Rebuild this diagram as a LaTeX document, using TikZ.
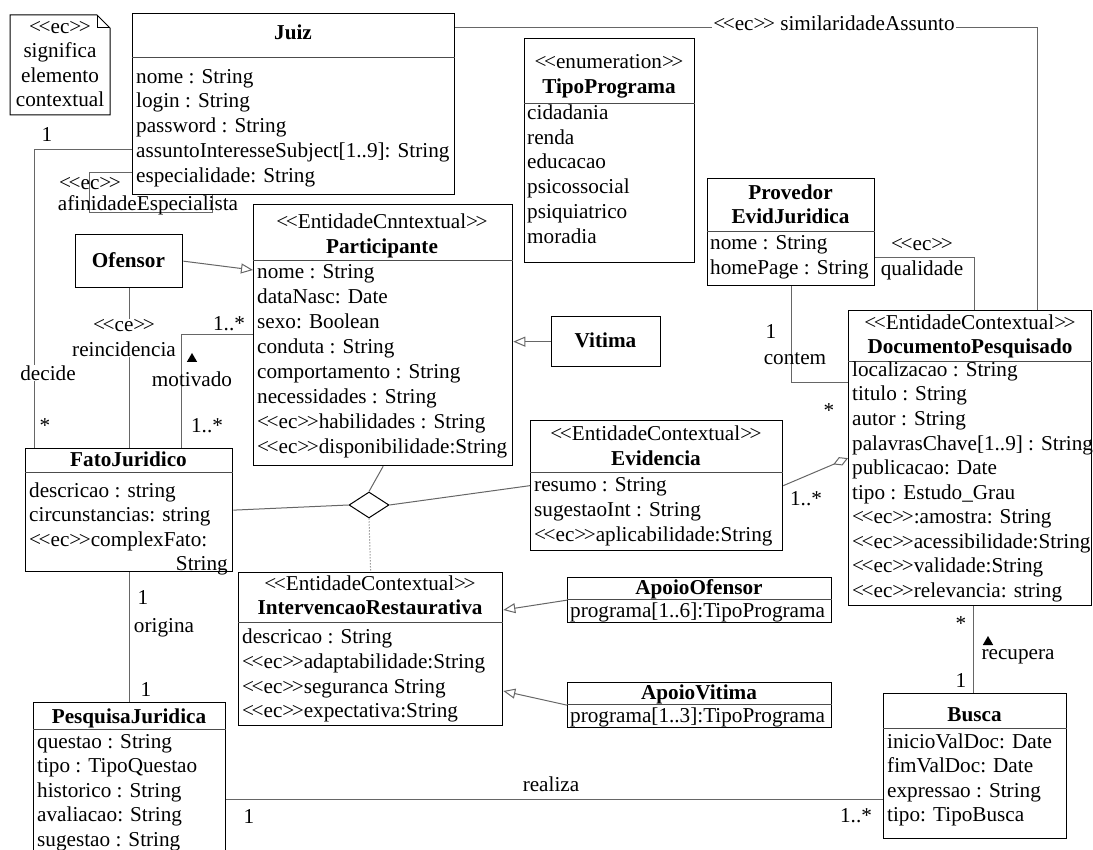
\documentclass[tikz,border=0pt]{standalone}
\usepackage{fontspec}
\setmainfont{Liberation Serif}
\usetikzlibrary{arrows.meta,shapes.geometric}

\newcommand{\ester}[1]{<\kern-0.12em<#1>\kern-0.12em>}

\begin{document}
\begin{tikzpicture}[
    x=1pt, y=-1pt,
    font=\fontsize{21.2}{24.6}\selectfont,
    classe/.style={draw, line width=1.3pt, anchor=north west, inner sep=0pt},
    divisao/.style={line width=1pt, black!70},
    estereo/.style={inner sep=0pt, text height=16pt, text depth=3pt},
    titulo/.style={estereo, font=\fontsize{21.2}{24.6}\selectfont\bfseries},
    atrib/.style={estereo, anchor=west},
    linha/.style={line width=1pt, black!60},
    heranca/.style={linha, -{Triangle[open, length=12pt, width=10pt]}},
    agrega/.style={linha, -{Diamond[open, length=16pt, width=9pt]}},
    rotulo/.style={inner sep=1pt},
    seta/.style={regular polygon, regular polygon sides=3, fill=black, inner sep=0pt, minimum size=12pt},
]

\useasboundingbox (0,0) rectangle (1093,850);

% Nota

\draw[line width=1pt] (10,15) -- (97,15) -- (110,28) -- (110,115) -- (10,115) -- cycle;
\draw[line width=1pt] (97,15) -- (97,28) -- (110,28);
\node[align=center, inner sep=0pt] (nota) at (60,64) {\ester{ec}\\significa\\elemento\\contextual};


% Juiz

\node[classe, minimum width=322pt, minimum height=181pt] (juiz) at (132,13) {};
\draw[divisao] ([yshift=-45pt]juiz.north west) -- ([yshift=-45pt]juiz.north east);
\node[titulo] (juizT) at (293,33) {Juiz};
\node[atrib] (juiz1) at (136,77) {nome : String};
\node[atrib] (juiz2) at (136,101) {login : String};
\node[atrib] (juiz3) at (136,126) {password : String};
\node[atrib] (juiz4) at (136,151) {assuntoInteresseSubject[1..9]: String};
\node[atrib] (juiz5) at (136,176) {especialidade: String};


% TipoPrograma

\node[classe, minimum width=170pt, minimum height=224pt] (tipo) at (524,38) {};
\draw[divisao] ([yshift=-66pt]tipo.north west) -- ([yshift=-66pt]tipo.north east);
\node[estereo] (tipoE) at (609,62) {\ester{enumeration}};
\node[titulo] (tipoT) at (609,87) {TipoPrograma};
\node[atrib] (tipo1) at (527,113) {cidadania};
\node[atrib] (tipo2) at (527,138) {renda};
\node[atrib] (tipo3) at (527,162) {educacao};
\node[atrib] (tipo4) at (527,187) {psicossocial};
\node[atrib] (tipo5) at (527,212) {psiquiatrico};
\node[atrib] (tipo6) at (527,237) {moradia};


% ProvedorEvidJuridica

\node[classe, minimum width=167pt, minimum height=107pt] (provedor) at (707,178) {};
\draw[divisao] ([yshift=-54pt]provedor.north west) -- ([yshift=-54pt]provedor.north east);
\node[titulo] (provedorT1) at (790.5,193) {Provedor};
\node[titulo] (provedorT2) at (790.5,217) {EvidJuridica};
\node[atrib] (provedor1) at (710,243) {nome : String};
\node[atrib] (provedor2) at (710,268) {homePage : String};


% Participante

\node[classe, minimum width=259pt, minimum height=261pt] (participante) at (253,204) {};
\draw[divisao] ([yshift=-57pt]participante.north west) -- ([yshift=-57pt]participante.north east);
\node[estereo] (participanteE) at (382,222) {\ester{EntidadeCnntextual}};
\node[titulo] (participanteT) at (382,247) {Participante};
\node[atrib] (part1) at (257,272) {nome : String};
\node[atrib] (part2) at (257,297) {dataNasc: Date};
\node[atrib] (part3) at (257,322) {sexo: Boolean};
\node[atrib] (part4) at (257,347) {conduta : String};
\node[atrib] (part5) at (257,372) {comportamento : String};
\node[atrib] (part6) at (257,397) {necessidades : String};
\node[atrib] (part7) at (257,422) {\ester{ec}habilidades : String};
\node[atrib] (part8) at (257,447) {\ester{ec}disponibilidade:String};


% Ofensor e Vitima

\node[classe, minimum width=107pt, minimum height=53pt] (ofensor) at (75,234) {};
\node[titulo] (ofensorT) at (128.5,261) {Ofensor};

\node[classe, minimum width=109pt, minimum height=50pt] (vitima) at (551,316) {};
\node[titulo] (vitimaT) at (605.5,341) {Vitima};


% FatoJuridico

\node[classe, minimum width=207pt, minimum height=123pt] (fato) at (25,448) {};
\draw[divisao] ([yshift=-24pt]fato.north west) -- ([yshift=-24pt]fato.north east);
\node[titulo] (fatoT) at (128.5,460) {FatoJuridico};
\node[atrib] (fato1) at (29,491) {descricao : string};
\node[atrib] (fato2) at (29,515) {circunstancias: string};
\node[atrib] (fato3) at (29,540) {\ester{ec}complexFato:};
\node[atrib, anchor=east] (fato4) at (228,564) {String};


% Evidencia

\node[classe, minimum width=252pt, minimum height=130pt] (evidencia) at (530,420) {};
\draw[divisao] ([yshift=-52pt]evidencia.north west) -- ([yshift=-52pt]evidencia.north east);
\node[estereo] (evidenciaE) at (656,434) {\ester{EntidadeContextual}};
\node[titulo] (evidenciaT) at (656,459) {Evidencia};
\node[atrib] (evid1) at (534,485) {resumo : String};
\node[atrib] (evid2) at (534,510) {sugestaoInt : String};
\node[atrib] (evid3) at (534,535) {\ester{ec}aplicabilidade:String};


% DocumentoPesquisado

\node[classe, minimum width=243pt, minimum height=295pt] (documento) at (848,310) {};
\draw[divisao] ([yshift=-52pt]documento.north west) -- ([yshift=-52pt]documento.north east);
\node[estereo] (documentoE) at (970,323) {\ester{EntidadeContextual}};
\node[titulo] (documentoT) at (970,347) {DocumentoPesquisado};
\node[atrib] (doc1) at (852,370) {localizacao : String};
\node[atrib] (doc2) at (852,394.5) {titulo : String};
\node[atrib] (doc3) at (852,419) {autor : String};
\node[atrib] (doc4) at (852,443.5) {palavrasChave[1..9] : String};
\node[atrib] (doc5) at (852,468) {publicacao: Date};
\node[atrib] (doc6) at (852,492.5) {tipo : Estudo\_Grau};
\node[atrib] (doc7) at (852,517) {\ester{ec}:amostra: String};
\node[atrib] (doc8) at (852,541.5) {\ester{ec}acessibilidade:String};
\node[atrib] (doc9) at (852,566) {\ester{ec}validade:String};
\node[atrib] (doc10) at (852,590.5) {\ester{ec}relevancia: string};


% IntervencaoRestaurativa

\node[classe, minimum width=264pt, minimum height=153pt] (intervencao) at (238,572) {};
\draw[divisao] ([yshift=-50pt]intervencao.north west) -- ([yshift=-50pt]intervencao.north east);
\node[estereo] (intervencaoE) at (370,584) {\ester{EntidadeContextual}};
\node[titulo] (intervencaoT) at (370,608) {IntervencaoRestaurativa};
\node[atrib] (interv1) at (242,637) {descricao : String};
\node[atrib] (interv2) at (242,662) {\ester{ec}adaptabilidade:String};
\node[atrib] (interv3) at (242,687) {\ester{ec}seguranca String};
\node[atrib] (interv4) at (242,711) {\ester{ec}expectativa:String};


% ApoioOfensor e ApoioVitima

\node[classe, minimum width=264pt, minimum height=45pt] (apoioOfensor) at (567,577) {};
\draw[divisao] ([yshift=-22pt]apoioOfensor.north west) -- ([yshift=-22pt]apoioOfensor.north east);
\node[titulo] (apoioOfensorT) at (699,588) {ApoioOfensor};
\node[atrib] (apoioOfensor1) at (570,611) {programa[1..6]:TipoPrograma};

\node[classe, minimum width=264pt, minimum height=45pt] (apoioVitima) at (567,682) {};
\draw[divisao] ([yshift=-22pt]apoioVitima.north west) -- ([yshift=-22pt]apoioVitima.north east);
\node[titulo] (apoioVitimaT) at (699,693) {ApoioVitima};
\node[atrib] (apoioVitima1) at (570,716) {programa[1..3]:TipoPrograma};


% Busca

\node[classe, minimum width=183pt, minimum height=145pt] (busca) at (883,693) {};
\draw[divisao] ([yshift=-35pt]busca.north west) -- ([yshift=-35pt]busca.north east);
\node[titulo] (buscaT) at (974.5,715) {Busca};
\node[atrib] (busca1) at (887,742) {inicioValDoc: Date};
\node[atrib] (busca2) at (887,766) {fimValDoc: Date};
\node[atrib] (busca3) at (887,791) {expressao : String};
\node[atrib] (busca4) at (887,815) {tipo: TipoBusca};


% PesquisaJuridica

\node[classe, minimum width=192pt, minimum height=170pt] (pesquisa) at (33,702) {};
\draw[divisao] ([yshift=-27pt]pesquisa.north west) -- ([yshift=-27pt]pesquisa.north east);
\node[titulo] (pesquisaT) at (129,717) {PesquisaJuridica};
\node[atrib] (pesq1) at (37,742) {questao : String};
\node[atrib] (pesq2) at (37,766) {tipo : TipoQuestao};
\node[atrib] (pesq3) at (37,791) {historico : String};
\node[atrib] (pesq4) at (37,815) {avaliacao: String};
\node[atrib] (pesq5) at (37,840) {sugestao : String};


% Associacao n-aria

\node[draw, diamond, line width=1pt, aspect=1.54, minimum width=40pt, minimum height=26pt, inner sep=0pt] (losango) at (369,505) {};

\draw[linha] (participante.south) -- (losango.north);
\draw[linha] (fato.east) -- (losango.west);
\draw[linha] (losango.east) -- (evidencia.west);
\draw[linha, dotted] (losango.south) -- (intervencao.north);


% Pontos de dobra

\coordinate (cSim) at (1037,28);
\coordinate (cQual) at (974,258);
\coordinate (cCont) at (791,383);
\coordinate (cDec) at (34,150);
\coordinate (cMot) at (181,335);
\coordinate (cAf1) at (89,173);
\coordinate (cAf2) at (212,213);
\coordinate (cRea) at (0,799);
\coordinate (cRec) at (973,0);


% Associacoes

\draw[linha] (juiz.east |- cSim) -| (documento.north -| cSim);
\node[rotulo, fill=white] (similaridade) at (834,23) {\ester{ec} similaridadeAssunto};

\draw[linha] (provedor.east |- cQual) -| (documento.north -| cQual);
\node[rotulo] (qualidade1) at (922,245) {\ester{ec}};
\node[rotulo] (qualidade2) at (922,270) {qualidade};

\draw[linha] (provedor.south -| cCont) |- (documento.west |- cCont);
\node[rotulo] (contem1) at (771,332) {1};
\node[rotulo] (contem) at (795,359) {contem};
\node[rotulo] (contem2) at (829,411) {*};

\draw[agrega] (evidencia.east) -- (documento.west);
\node[rotulo] (agrega1) at (806,499) {1..*};

\draw[linha] (juiz.west |- cDec) -| (fato.north -| cDec);
\node[rotulo] (decide1) at (47,135) {1};
\node[rotulo, fill=white] (decide) at (48,373) {decide};
\node[rotulo] (decide2) at (45,426) {*};

\draw[linha] (juiz.west |- cAf1) -- (cAf1) |- (cAf2) -- (juiz.south -| cAf2);
\node[rotulo] (afinidade1) at (90,184) {\ester{ec}};
\node[rotulo] (afinidade) at (148,205) {afinidadeEspecialista};

\draw[linha] (ofensor.south) -- (fato.north -| ofensor.south);
\node[rotulo, fill=white, align=center] (reincidencia) at (124,338) {\ester{ce}\\reincidencia};

\draw[linha] (fato.north -| cMot) |- (participante.west |- cMot);
\node[rotulo] (motivado1) at (229,324) {1..*};
\node[seta] (setaMot) at (192,359) {};
\node[rotulo] (motivado) at (192,379) {motivado};
\node[rotulo] (motivado2) at (207,426) {1..*};

\draw[linha] (fato.south) -- (pesquisa.north -| fato.south);
\node[rotulo] (origina1) at (143,598) {1};
\node[rotulo] (origina) at (164,628) {origina};
\node[rotulo] (origina2) at (146,689) {1};

\draw[linha] (pesquisa.east |- cRea) -- (busca.west |- cRea);
\node[rotulo] (realiza1) at (249,816) {1};
\node[rotulo] (realiza) at (551,784) {realiza};
\node[rotulo] (realiza2) at (856,816) {1..*};

\draw[linha] (documento.south -| cRec) -- (busca.north -| cRec);
\node[rotulo] (recupera1) at (961,624) {*};
\node[seta] (setaRec) at (988,642) {};
\node[rotulo] (recupera) at (1018,657) {recupera};
\node[rotulo] (recupera2) at (961,680) {1};


% Generalizacoes

\draw[heranca] (ofensor.east) -- ([yshift=-66pt]participante.north west);
\draw[heranca] (vitima.west) -- (participante.east |- vitima.west);
\draw[heranca] (apoioOfensor.west) -- ([yshift=-38pt]intervencao.north east);
\draw[heranca] (apoioVitima.west) -- ([yshift=-119pt]intervencao.north east);

\end{tikzpicture}
\end{document}
